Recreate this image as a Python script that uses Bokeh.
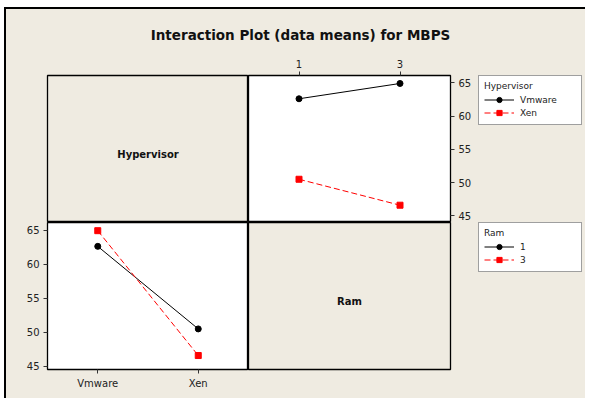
from bokeh.plotting import figure
from bokeh.layouts import column, row
from bokeh.models import Range1d, FactorRange, FixedTicker, Legend, LegendItem, Label
from bokeh.embed import file_html
from bokeh.resources import INLINE

# ---------------- data ----------------
title_text = "Interaction Plot (data means) for MBPS"
hypervisors = ["Vmware", "Xen"]
ram_levels = ["1", "3"]
vmware_means = [62.6, 64.9]   # at Ram 1, Ram 3
xen_means = [50.5, 46.6]      # at Ram 1, Ram 3
ram1_means = [62.6, 50.5]     # at Vmware, Xen
ram3_means = [64.9, 46.6]     # at Vmware, Xen
y_ticks = [45, 50, 55, 60, 65]

BG = "#EFEBE1"
FONT = "DejaVu Sans"
TICK_COL = "#222222"
BLACK = "#000000"
RED = "#FF0000"
DASH = "6 3"


def base(**kw):
    p = figure(toolbar_location=None, output_backend="svg", **kw)
    p.background_fill_color = BG
    p.border_fill_color = BG
    p.grid.visible = False
    return p


def style_axes(p):
    for ax in p.axis:
        ax.axis_line_color = None
        ax.major_tick_out = 4
        ax.major_tick_in = 0
        ax.minor_tick_line_color = None
        ax.major_tick_line_color = "#333333"
        ax.major_label_text_font = FONT
        ax.major_label_text_font_size = "10px"
        ax.major_label_text_color = TICK_COL
        ax.major_label_standoff = 4


# ---------------- title ----------------
pt = base(width=579, height=40, x_range=(0, 1), y_range=(0, 1),
          x_axis_location=None, y_axis_location=None,
          min_border_left=9, min_border_right=0, min_border_top=33, min_border_bottom=0)
pt.outline_line_color = None
pt.title.text = title_text
pt.title.align = "center"
pt.title.text_font = FONT
pt.title.text_font_style = "bold"
pt.title.text_font_size = "13.5px"
pt.title.text_color = "#111111"
pt.title.standoff = 0

# ---------------- top-left cell ----------------
tl = base(width=242, height=173, x_range=(0, 1), y_range=(0, 1),
          x_axis_location=None, y_axis_location=None,
          min_border_left=41, min_border_right=0, min_border_top=26, min_border_bottom=0)
tl.outline_line_color = BLACK
tl.outline_line_width = 1.3
tl.add_layout(Label(x=0.5, y=0.46, text="Hypervisor", text_align="center", text_baseline="middle",
                    text_font=FONT, text_font_style="bold", text_font_size="10px",
                    text_color="#111111"))

# ---------------- top-right plot: MBPS vs Ram by Hypervisor ----------------
tr = base(width=228, height=173, x_range=FactorRange(*ram_levels), y_range=Range1d(44.0, 66.1),
          x_axis_location="above", y_axis_location="right",
          min_border_left=0, min_border_right=26, min_border_top=26, min_border_bottom=0)
tr.background_fill_color = "white"
tr.outline_line_color = BLACK
tr.outline_line_width = 1.3
tr.yaxis.ticker = FixedTicker(ticks=y_ticks)
style_axes(tr)
tr.line(ram_levels, vmware_means, line_color=BLACK, line_width=1)
tr.scatter(ram_levels, vmware_means, marker="circle", size=6, color=BLACK)
tr.line(ram_levels, xen_means, line_color=RED, line_width=1, line_dash=DASH)
tr.scatter(ram_levels, xen_means, marker="square", size=6, color=RED)

# ---------------- bottom-left plot: MBPS vs Hypervisor by Ram ----------------
bl = base(width=242, height=176, x_range=FactorRange(*hypervisors), y_range=Range1d(44.55, 66.1),
          x_axis_location="below", y_axis_location="left",
          min_border_left=41, min_border_right=0, min_border_top=0, min_border_bottom=29)
bl.background_fill_color = "white"
bl.outline_line_color = BLACK
bl.outline_line_width = 1.3
bl.yaxis.ticker = FixedTicker(ticks=y_ticks)
style_axes(bl)
bl.line(hypervisors, ram1_means, line_color=BLACK, line_width=1)
bl.scatter(hypervisors, ram1_means, marker="circle", size=6, color=BLACK)
bl.line(hypervisors, ram3_means, line_color=RED, line_width=1, line_dash=DASH)
bl.scatter(hypervisors, ram3_means, marker="square", size=6, color=RED)

# ---------------- bottom-right cell ----------------
br = base(width=228, height=176, x_range=(0, 1), y_range=(0, 1),
          x_axis_location=None, y_axis_location=None,
          min_border_left=0, min_border_right=26, min_border_top=0, min_border_bottom=29)
br.outline_line_color = BLACK
br.outline_line_width = 1.3
br.add_layout(Label(x=0.5, y=0.46, text="Ram", text_align="center", text_baseline="middle",
                    text_font=FONT, text_font_style="bold", text_font_size="10px",
                    text_color="#111111"))


# ---------------- legends ----------------
def legend_fig(height, top, title, labels, y_black, y_red):
    lf = base(width=109, height=height, x_range=(0, 1), y_range=(0, 1),
              x_axis_location=None, y_axis_location=None,
              min_border_left=2, min_border_right=0, min_border_top=top, min_border_bottom=0)
    lf.outline_line_color = None
    # same series, drawn outside this panel's ranges: only their legend keys show
    l1 = lf.line(x=[0, 1], y=y_black, line_color=BLACK, line_width=1)
    s1 = lf.scatter(x=[0, 1], y=y_black, marker="circle", size=6, color=BLACK)
    l2 = lf.line(x=[0, 1], y=y_red, line_color=RED, line_width=1, line_dash=DASH)
    s2 = lf.scatter(x=[0, 1], y=y_red, marker="square", size=6, color=RED)
    leg = Legend(items=[LegendItem(label=labels[0], renderers=[l1, s1]),
                        LegendItem(label=labels[1], renderers=[l2, s2])],
                 location="top_left", title=title, margin=0, padding=5, spacing=0,
                 glyph_width=30, glyph_height=13, label_height=13, label_width=56,
                 label_standoff=6)
    leg.title_text_font = FONT
    leg.title_text_font_size = "9px"
    leg.title_text_font_style = "normal"
    leg.title_text_color = "#222222"
    leg.title_standoff = 2
    leg.label_text_font = FONT
    leg.label_text_font_size = "9px"
    leg.label_text_color = "#222222"
    leg.border_line_color = "#404040"
    leg.border_line_width = 1.3
    leg.background_fill_color = "white"
    leg.background_fill_alpha = 1
    lf.add_layout(leg)
    return lf


lg1 = legend_fig(173, 26, "Hypervisor", hypervisors, vmware_means, xen_means)
lg2 = legend_fig(176, 0, "Ram", ram_levels, ram1_means, ram3_means)

root = column(pt, row(tl, tr, lg1), row(bl, br, lg2))
root.margin = (7, 0, 0, 4)
root.styles = {"background-color": BG, "border-left": "2px solid black", "border-top": "2px solid black"}

open("out.html", "w").write(file_html(root, INLINE))
